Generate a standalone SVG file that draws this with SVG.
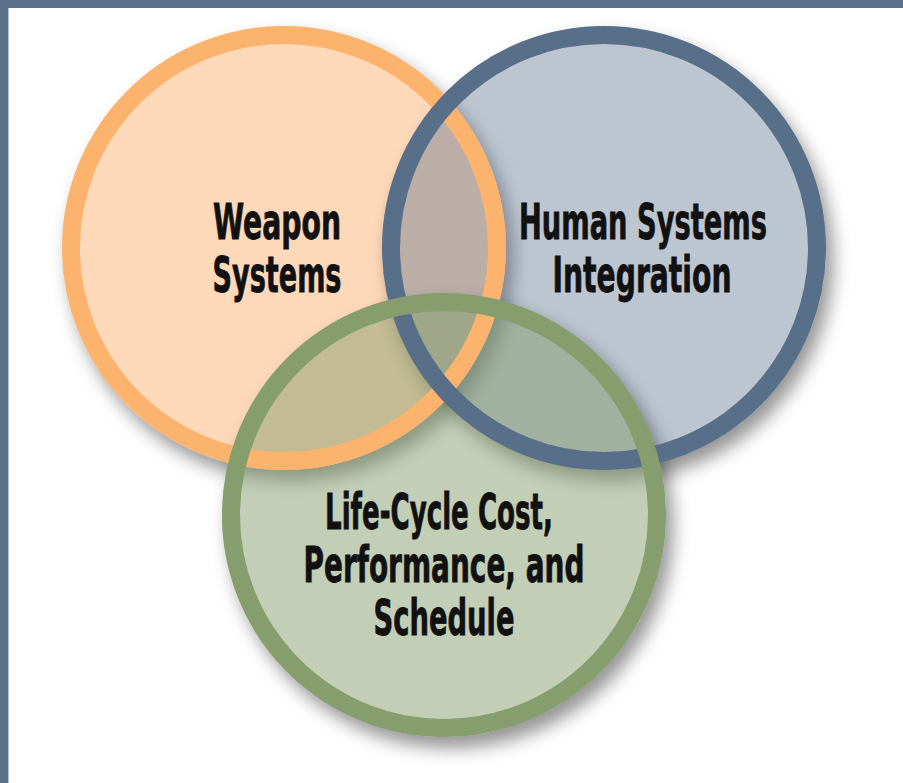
<svg xmlns="http://www.w3.org/2000/svg" width="903" height="783" viewBox="0 0 903 783">
  <defs>
    <style>
      .label { font-family: "DejaVu Sans Condensed", "DejaVu Sans", "Liberation Sans", sans-serif; font-weight: bold; font-size: 49px; fill: #111111; stroke: #111111; stroke-width: 0.8; text-anchor: middle; }
      .ring { fill: none; stroke-width: 18; }
      .shadow-src { fill: #000000; }
    </style>
    <!-- drop shadow that only shows outside the shape itself -->
    <filter id="outerShadow" x="-20%" y="-20%" width="150%" height="150%" color-interpolation-filters="sRGB">
      <feGaussianBlur in="SourceAlpha" stdDeviation="9"/>
      <feOffset dx="7" dy="11" result="blur"/>
      <feFlood flood-color="#000000" flood-opacity="0.42"/>
      <feComposite in2="blur" operator="in" result="shadow"/>
      <feComposite in="shadow" in2="SourceAlpha" operator="out"/>
    </filter>
  </defs>

  <!-- frame -->
  <rect x="0" y="0" width="903" height="783" fill="#ffffff"/>
  <rect x="0" y="0" width="903" height="8" fill="#5a6f88"/>
  <rect x="0" y="0" width="8" height="783" fill="#5a6f88"/>
  <rect x="8" y="8" width="1" height="775" fill="#b3bfcc"/>

  <!-- Weapon Systems -->
  <g id="weapon-systems">
    <circle class="shadow-src" cx="284" cy="248" r="222" filter="url(#outerShadow)"/>
    <circle cx="284" cy="248" r="222" fill="#fed9b9"/>
    <text class="label" x="277" y="239" textLength="128" lengthAdjust="spacingAndGlyphs">Weapon</text>
    <text class="label" x="277" y="292" textLength="129" lengthAdjust="spacingAndGlyphs">Systems</text>
  </g>

  <!-- Human Systems Integration -->
  <g id="human-systems-integration">
    <circle class="shadow-src" cx="604" cy="248" r="222" filter="url(#outerShadow)"/>
    <circle cx="604" cy="248" r="222" fill="#586f89" fill-opacity="0.4"/>
    <text class="label" x="643" y="239" textLength="248" lengthAdjust="spacingAndGlyphs">Human Systems</text>
    <text class="label" x="642" y="292" textLength="179" lengthAdjust="spacingAndGlyphs">Integration</text>
  </g>

  <!-- Life-Cycle Cost, Performance, and Schedule -->
  <g id="life-cycle-cost">
    <circle class="shadow-src" cx="444" cy="515" r="222" filter="url(#outerShadow)"/>
    <circle cx="444" cy="515" r="222" fill="#869d6e" fill-opacity="0.5"/>
    <text class="label" x="439" y="529" textLength="228" lengthAdjust="spacingAndGlyphs">Life-Cycle Cost,</text>
    <text class="label" x="444" y="582" textLength="281" lengthAdjust="spacingAndGlyphs">Performance, and</text>
    <text class="label" x="444" y="635" textLength="141" lengthAdjust="spacingAndGlyphs">Schedule</text>
  </g>

  <!-- outlines, stacked orange, blue, green -->
  <g id="rings">
    <circle class="ring" cx="284" cy="248" r="213" stroke="#fbb36e"/>
    <circle class="ring" cx="604" cy="248" r="213" stroke="#586f89"/>
    <circle class="ring" cx="444" cy="515" r="213" stroke="#869d6e"/>
  </g>
</svg>
